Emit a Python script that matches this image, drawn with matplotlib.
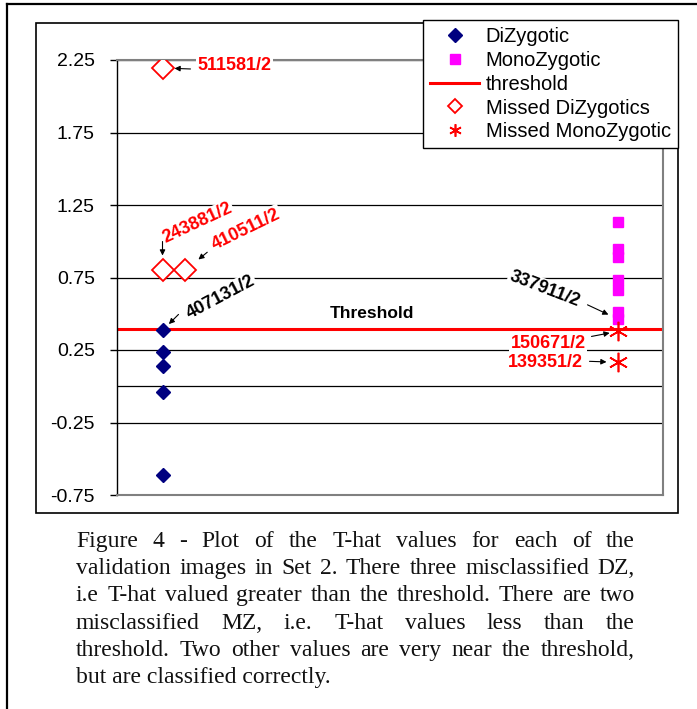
import matplotlib
matplotlib.use("Agg")
import matplotlib.pyplot as plt
from matplotlib.patches import Rectangle
from matplotlib.lines import Line2D

plt.rcParams['font.family'] = ['Liberation Sans', 'DejaVu Sans']

#------------------------------------------------------------------
# values
#------------------------------------------------------------------
dz_x = [1, 1, 1, 1, 1]
dz_y = [0.385, 0.233, 0.137, -0.04, -0.613]

mz_x = [11, 11, 11, 11, 11, 11, 11]
mz_y = [1.135, 0.949, 0.894, 0.736, 0.661, 0.510, 0.465]

threshold = 0.392

missed_dz_x = [1, 1, 1.5]
missed_dz_y = [2.195, 0.805, 0.80]
missed_dz_lab = ['511581/2', '243881/2', '410511/2']

missed_mz_x = [11, 11]
missed_mz_y = [0.378, 0.165]
missed_mz_lab = ['150671/2', '139351/2']

# correctly classified but close to the threshold
near_lab = ['407131/2', '337911/2']

yticks = [-0.75, -0.25, 0.25, 0.75, 1.25, 1.75, 2.25]

caption = ["Figure 4 - Plot of the T-hat values for each of the",
           "validation images in Set 2. There three misclassified DZ,",
           "i.e T-hat valued greater than the threshold. There are two",
           "misclassified MZ, i.e. T-hat values less than the",
           "threshold.  Two other values are very near the threshold,",
           "but are classified correctly."]

W, H = 697, 709
fig = plt.figure(figsize=(W / 100, H / 100), dpi=100)

def fx(px):
    return px / W

def fy(py):
    return 1 - py / H

# page border (left + top) and the chart frame
fig.add_artist(Line2D([fx(7), fx(7)], [0, fy(4)], color='black', lw=1.6))
fig.add_artist(Line2D([fx(7), 1], [fy(4), fy(4)], color='black', lw=1.6))
fig.add_artist(Rectangle((fx(36), fy(513)), fx(678) - fx(36), fy(23) - fy(513),
                         transform=fig.transFigure, fill=False, ec='black',
                         lw=1.2, zorder=-1))

ax = fig.add_axes([fx(117), fy(495), fx(663) - fx(117), fy(60) - fy(495)])
ax.set_xlim(0, 12)
ax.set_ylim(-0.75, 2.25)
ax.set_xticks([])
ax.set_yticks(yticks)
ax.set_yticklabels(['%.2f' % v for v in yticks])
ax.tick_params(axis='y', direction='out', length=5, width=1, labelsize=14, pad=11)
for s in ['top', 'right', 'bottom']:
    ax.spines[s].set_color('#808080')
    ax.spines[s].set_linewidth(1.5)
ax.spines['left'].set_color('black')
ax.spines['left'].set_linewidth(1)

ax.grid(axis='y', color='black', lw=0.9)
ax.set_axisbelow(True)
ax.axhline(0, color='black', lw=0.9, zorder=0.6)

ax.plot(dz_x, dz_y, ls='none', marker='D', ms=7.5, color='#000080',
        label='DiZygotic', zorder=4)
ax.plot(mz_x, mz_y, ls='none', marker='s', ms=7, color='#FF00FF',
        label='MonoZygotic', zorder=4)
ax.axhline(threshold, color='red', lw=2.2, label='threshold', zorder=2)
ax.plot(missed_dz_x, missed_dz_y, ls='none', marker='D', ms=11, mfc='white',
        mec='red', mew=1.3, label='Missed DiZygotics', zorder=4)
ax.plot(missed_mz_x, missed_mz_y, ls='none', marker=(6, 2, 0), ms=14,
        color='red', mew=1.2, label='Missed MonoZygotic', zorder=4)

leg = ax.legend(loc='upper right', bbox_to_anchor=(fx(678), fy(20)),
                bbox_transform=fig.transFigure, fontsize=14.5, fancybox=False,
                edgecolor='black', framealpha=1, borderpad=0.35,
                labelspacing=0.24, handlelength=2.4, handletextpad=0.35,
                borderaxespad=0)
leg.get_frame().set_linewidth(1)
for h, ms in zip(leg.legend_handles, [7, 7, 0, 7.5, 9]):
    if ms:
        h.set_markersize(ms)

k = 0.72  # px -> points at 100 dpi


def tag(x, y, label, color, tail, shrink, txt, rot=0, ha='center'):
    ax.annotate('', xy=(x, y), xytext=(tail[0] * k, tail[1] * k),
                textcoords='offset points',
                arrowprops=dict(arrowstyle='-|>', color='black', lw=0.8,
                                mutation_scale=8, shrinkA=0, shrinkB=shrink * k),
                zorder=3)
    ax.annotate(label, xy=(x, y), xytext=(txt[0] * k, txt[1] * k),
                textcoords='offset points', ha=ha, va='center',
                rotation=rot, rotation_mode='anchor', color=color,
                fontsize=13, fontweight='bold', zorder=2.8,
                bbox=dict(fc='white', ec='none', pad=1))


tag(missed_dz_x[0], missed_dz_y[0], missed_dz_lab[0], 'red', (28, -1), 12, (35, 2), ha='left')
tag(missed_dz_x[1], missed_dz_y[1], missed_dz_lab[1], 'red', (0, 28), 14, (35, 46), rot=25)
tag(missed_dz_x[2], missed_dz_y[2], missed_dz_lab[2], 'red', (22, 18), 17, (61, 41), rot=26)
tag(dz_x[0], dz_y[0], near_lab[0], 'black', (16, 16), 9, (58, 33), rot=28)
tag(mz_x[6], mz_y[6], near_lab[1], 'black', (-30, 14), 10, (-73, 30), rot=-21)
tag(missed_mz_x[0], missed_mz_y[0], missed_mz_lab[0], 'red', (-26, -5), 8, (-32, -12), ha='right')
tag(missed_mz_x[1], missed_mz_y[1], missed_mz_lab[1], 'red', (-28, 1), 11, (-35, 0), ha='right')

ax.annotate('Threshold', xy=(5.6, threshold), xytext=(0, 16 * k),
            textcoords='offset points', ha='center', va='center',
            fontsize=12.5, fontweight='bold', color='black')

# caption, justified between left and right margins
renderer = fig.canvas.get_renderer()
left, right = 76, 635
cap_font = dict(family='Liberation Serif', fontsize=17, color='#111111')
for i, line in enumerate(caption):
    base = fy(547 + 27.2 * i)
    if i == len(caption) - 1:
        fig.text(fx(left), base, line, va='baseline', ha='left', **cap_font)
        continue
    words = line.split()
    texts = [fig.text(0, base, w, va='baseline', ha='left', **cap_font) for w in words]
    widths = [t.get_window_extent(renderer).width for t in texts]
    gap = (right - left - sum(widths)) / (len(words) - 1)
    xpos = left
    for t, w in zip(texts, widths):
        t.set_x(fx(xpos))
        xpos += w + gap

fig.savefig('out.png', dpi=100)
